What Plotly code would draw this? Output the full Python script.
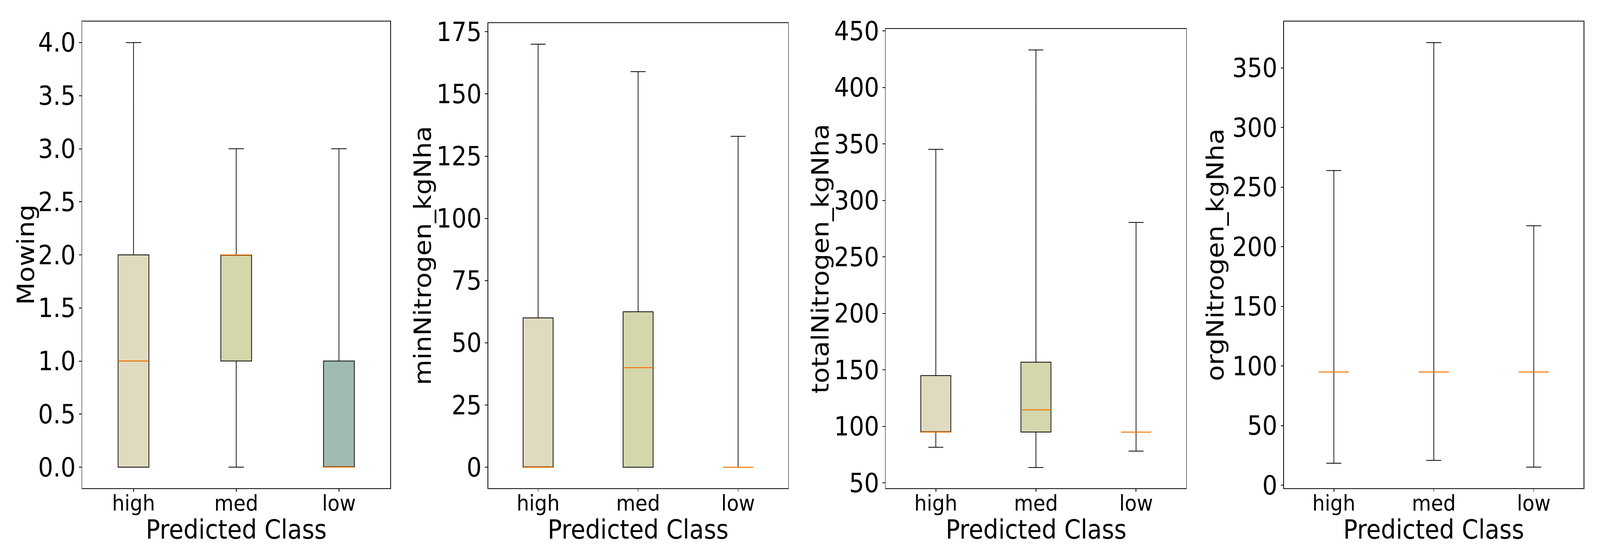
import plotly.graph_objects as go
from plotly.subplots import make_subplots

categories = ["high", "med", "low"]
positions = [1, 2, 3]
box_colors = ["#e0dbbe", "#d4d6ab", "#a0bbb0"]

features = ["Mowing", "minNitrogen_kgNha", "totalNitrogen_kgNha", "orgNitrogen_kgNha"]
x_title = "Predicted Class"

mowing_lower = [0, 0, 0]
mowing_q1 = [0, 1, 0]
mowing_median = [1, 2, 0]
mowing_q3 = [2, 2, 1]
mowing_upper = [4, 3, 3]

minN_lower = [0, 0, 0]
minN_q1 = [0, 0, 0]
minN_median = [0, 40, 0]
minN_q3 = [60, 62.5, 0]
minN_upper = [170, 159, 133]

totN_lower = [81.5, 63.6, 78.1]
totN_q1 = [95, 95, 95]
totN_median = [95, 114.7, 95]
totN_q3 = [145, 156.9, 95]
totN_upper = [345.3, 433.3, 280.6]

orgN_lower = [18.5, 20.9, 15.2]
orgN_q1 = [95, 95, 95]
orgN_median = [95, 95, 95]
orgN_q3 = [95, 95, 95]
orgN_upper = [264, 371.3, 217.7]

y_dticks = [0.5, 25, 50, 50]
y_formats = [".1f", "d", "d", "d"]

panels = [
    (mowing_lower, mowing_q1, mowing_median, mowing_q3, mowing_upper),
    (minN_lower, minN_q1, minN_median, minN_q3, minN_upper),
    (totN_lower, totN_q1, totN_median, totN_q3, totN_upper),
    (orgN_lower, orgN_q1, orgN_median, orgN_q3, orgN_upper),
]

W, H = 4531, 1430
# axes boxes in pixels (left, right, top, bottom)
px_boxes = [
    (232.7, 1105.2, 54.7, 1249.4),
    (1382.3, 2231.8, 59.0, 1249.4),
    (2508.3, 3359.0, 74.3, 1249.4),
    (3635.7, 4485.0, 54.7, 1249.4),
]
# right (descender-side) edge of each rotated y title, pixels
ytitle_right_px = [110, 1234, 2360, 3479]
xtitle_top_px = 1314

FONT = "DejaVu Sans"
BOX_W = 0.3

fig = make_subplots(rows=1, cols=4)

for i, (lo, q1, med, q3, up) in enumerate(panels):
    col = i + 1
    for j, pos in enumerate(positions):
        fig.add_trace(go.Box(
            x=[pos], q1=[q1[j]], median=[med[j]], q3=[q3[j]],
            lowerfence=[lo[j]], upperfence=[up[j]],
            width=BOX_W, whiskerwidth=0.5,
            fillcolor=box_colors[j],
            line=dict(color="black", width=2),
            boxpoints=False, showlegend=False, hoverinfo="skip",
        ), row=1, col=col)
    for j, pos in enumerate(positions):
        fig.add_trace(go.Scatter(
            x=[pos - BOX_W / 2, pos + BOX_W / 2], y=[med[j], med[j]],
            mode="lines", line=dict(color="#ff7f0e", width=2.5),
            showlegend=False, hoverinfo="skip",
        ), row=1, col=col)

    dmin = min(lo)
    dmax = max(up)
    span = dmax - dmin
    yr = [dmin - 0.05 * span, dmax + 0.05 * span]

    l, r, t, b = px_boxes[i]
    xdom = [l / W, r / W]
    ydom = [1 - b / H, 1 - t / H]

    fig.update_xaxes(
        domain=xdom, range=[0.5, 3.5], tickvals=positions, ticktext=categories,
        showline=True, linecolor="black", linewidth=2, mirror=True,
        ticks="outside", ticklen=7, tickwidth=2, tickcolor="black",
        ticklabelstandoff=-20,
        showgrid=False, zeroline=False, automargin=False,
        tickfont=dict(family=FONT, size=56, color="black"),
        row=1, col=col,
    )
    fig.update_yaxes(
        domain=ydom, range=yr, tick0=0, dtick=y_dticks[i], tickformat=y_formats[i],
        showline=True, linecolor="black", linewidth=2, mirror=True,
        ticks="outside", ticklen=7, tickwidth=2, tickcolor="black",
        ticklabelstandoff=-4,
        showgrid=False, zeroline=False, automargin=False,
        tickfont=dict(family=FONT, size=67, color="black"),
        row=1, col=col,
    )
    fig.add_annotation(
        text=features[i], textangle=-90, showarrow=False,
        xref="paper", yref="paper",
        x=(ytitle_right_px[i] + 4) / W, xanchor="right",
        y=(ydom[0] + ydom[1]) / 2, yanchor="middle",
        font=dict(family=FONT, size=67, color="black"),
    )
    fig.add_annotation(
        text=x_title, showarrow=False,
        xref="paper", yref="paper",
        x=(xdom[0] + xdom[1]) / 2, xanchor="center",
        y=1 - xtitle_top_px / H, yanchor="top",
        font=dict(family=FONT, size=67, color="black"),
    )

fig.update_layout(
    width=W, height=H,
    margin=dict(l=0, r=0, t=0, b=0, autoexpand=False),
    paper_bgcolor="white", plot_bgcolor="white",
    font=dict(family=FONT, color="black"),
)

fit_js = """
var gd = document.getElementById('{plot_id}');
document.documentElement.style.margin = '0';
document.documentElement.style.padding = '0';
document.documentElement.style.overflow = 'hidden';
document.body.style.margin = '0';
document.body.style.padding = '0';
document.body.style.overflow = 'hidden';
function fitFig() {
  var sx = window.innerWidth / %d;
  var sy = window.innerHeight / %d;
  gd.style.transformOrigin = '0 0';
  gd.style.transform = 'scale(' + sx + ',' + sy + ')';
}
fitFig();
window.addEventListener('resize', fitFig);
""" % (W, H)

fig.write_html("out.html", post_script=fit_js, config={"displayModeBar": False})
